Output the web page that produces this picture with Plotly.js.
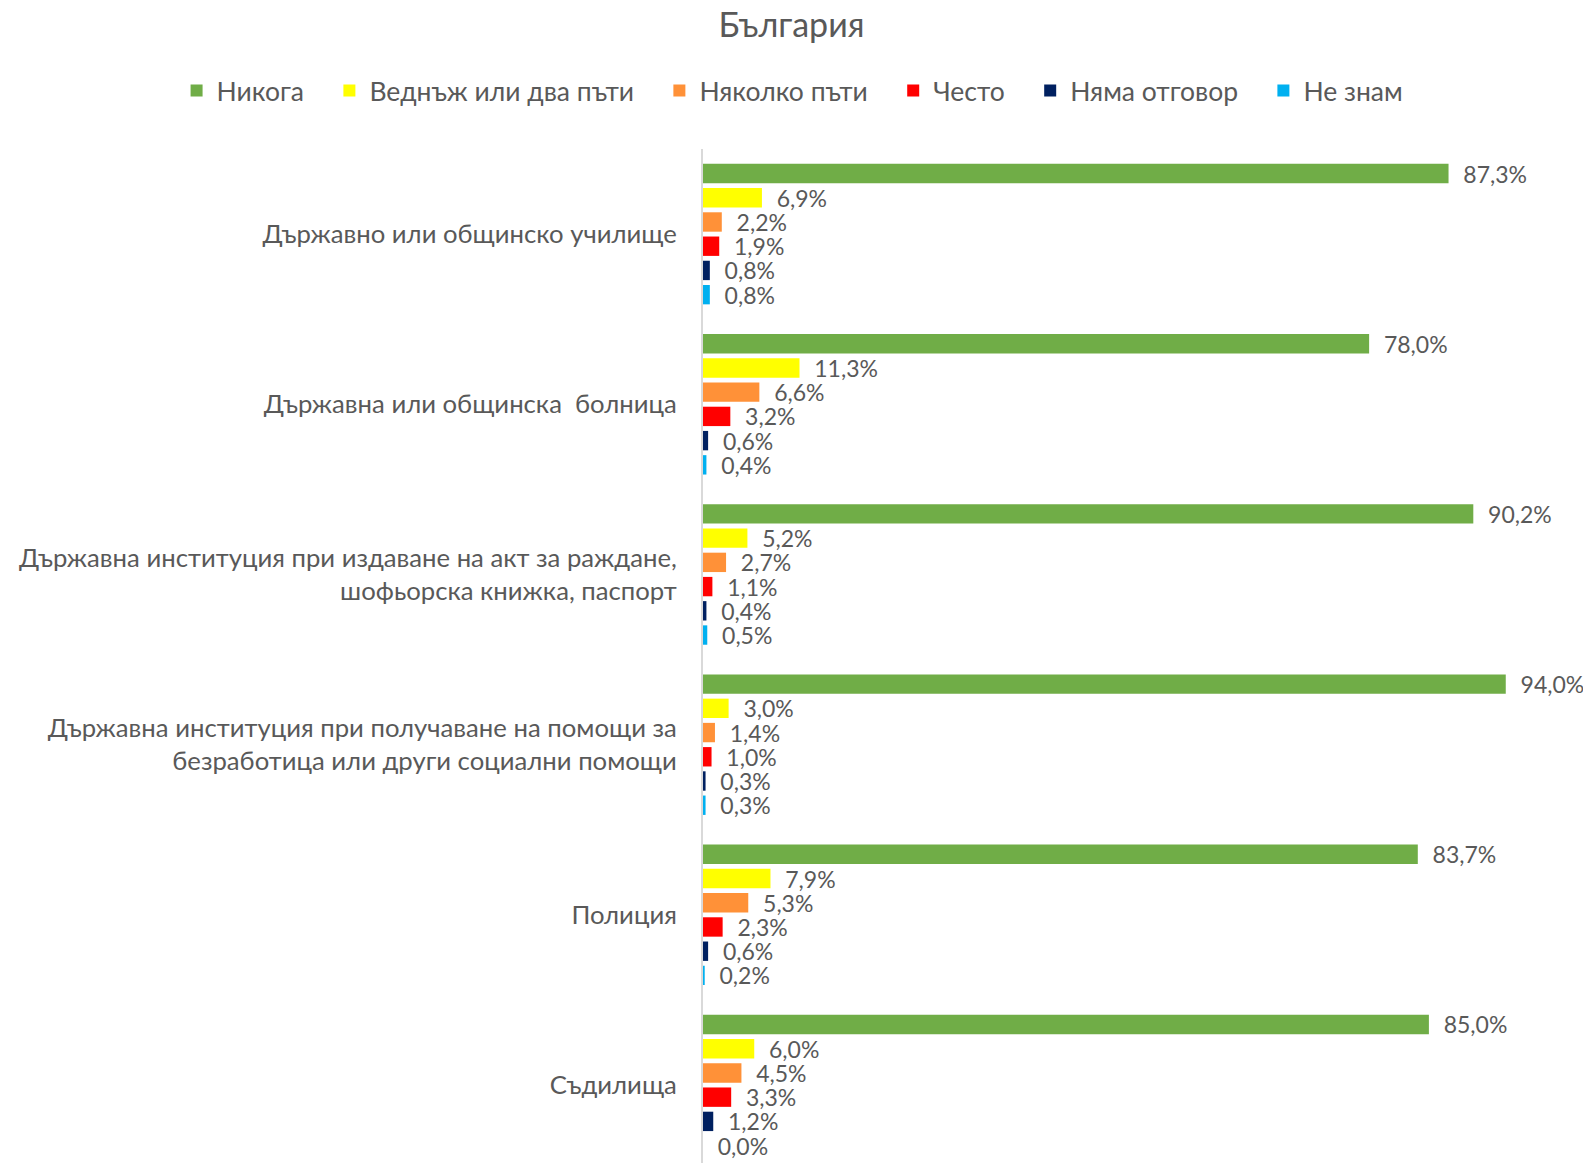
<!DOCTYPE html>
<html>
<head>
<meta charset="utf-8">
<script src="https://cdn.plot.ly/plotly-3.0.1.min.js"></script>
<style>html,body{margin:0;padding:0;background:#fff;}#chart{width:1583px;height:1163px;}</style>
</head>
<body>
<div id="chart"></div>
<script>
const categories = [
  "Държавно или общинско училище",
  "Държавна или общинска  болница",
  "Държавна институция при издаване на акт за раждане,<br>шофьорска книжка, паспорт",
  "Държавна институция при получаване на помощи за<br>безработица или други социални помощи",
  "Полиция",
  "Съдилища"
];
const seriesNames = ["Никога", "Веднъж или два пъти", "Няколко пъти", "Често", "Няма отговор", "Не знам"];
const seriesColors = ["#70AD47", "#FFFF00", "#FF9138", "#FF0000", "#002060", "#00B0F0"];
const nikoga   = [87.3, 78.0, 90.2, 94.0, 83.7, 85.0];
const vednaj   = [6.9, 11.3, 5.2, 3.0, 7.9, 6.0];
const nyakolko = [2.2, 6.6, 2.7, 1.4, 5.3, 4.5];
const chesto   = [1.9, 3.2, 1.1, 1.0, 2.3, 3.3];
const nyamaOtg = [0.8, 0.6, 0.4, 0.3, 0.6, 1.2];
const neZnam   = [0.8, 0.4, 0.5, 0.3, 0.2, 0.0];
const seriesValues = [nikoga, vednaj, nyakolko, chesto, nyamaOtg, neZnam];

const FONT = "Lato, 'Open Sans', sans-serif";
const GREY = "#595959";

const traces = seriesValues.map((vals, i) => ({
  type: "bar",
  orientation: "h",
  name: seriesNames[i] + "\u00a0\u00a0\u00a0",
  y: categories,
  x: vals,
  marker: {color: seriesColors[i], line: {width: 0}},
  text: vals.map(v => "\u00a0\u00a0" + v.toFixed(1).replace(".", ",") + "%"),
  textposition: "outside",
  constraintext: "none",
  textfont: {family: FONT, size: 23, color: GREY},
  cliponaxis: false,
  hoverinfo: "x+name"
}));

const L = 703, R = 1557, W = 1583;

const layout = {
  width: 1583, height: 1163,
  paper_bgcolor: "#fff", plot_bgcolor: "#fff",
  margin: {l: 0, r: 0, t: 149, b: 0, pad: 0},
  barmode: "group",
  bargap: 0.146,
  bargroupgap: 0.2,
  separators: ",.",
  title: {text: "България", x: 0.5, xref: "container", xanchor: "center", y: 0.978, yref: "container", yanchor: "middle",
          font: {family: FONT, size: 34, color: GREY}},
  showlegend: true,
  legend: {orientation: "h", xref: "container", yref: "container", x: 0.507, xanchor: "center", y: 0.922, yanchor: "middle",
           font: {family: FONT, size: 26.5, color: GREY}, itemwidth: 30, traceorder: "normal", tracegroupgap: 0},
  xaxis: {domain: [L / W, R / W], range: [0, 100], showgrid: false, zeroline: false, showticklabels: false, ticks: "", showline: false, fixedrange: true},
  yaxis: {type: "category", range: [5.458, -0.5], showgrid: false, zeroline: false, ticks: "outside", ticklen: 19, tickcolor: "rgba(0,0,0,0)",
          showline: true, linecolor: "#D9D9D9", linewidth: 2,
          tickfont: {family: FONT, size: 25.7, color: GREY}, automargin: false}
};

Plotly.newPlot("chart", traces, layout, {displayModeBar: false, staticPlot: true});
</script>
</body>
</html>
